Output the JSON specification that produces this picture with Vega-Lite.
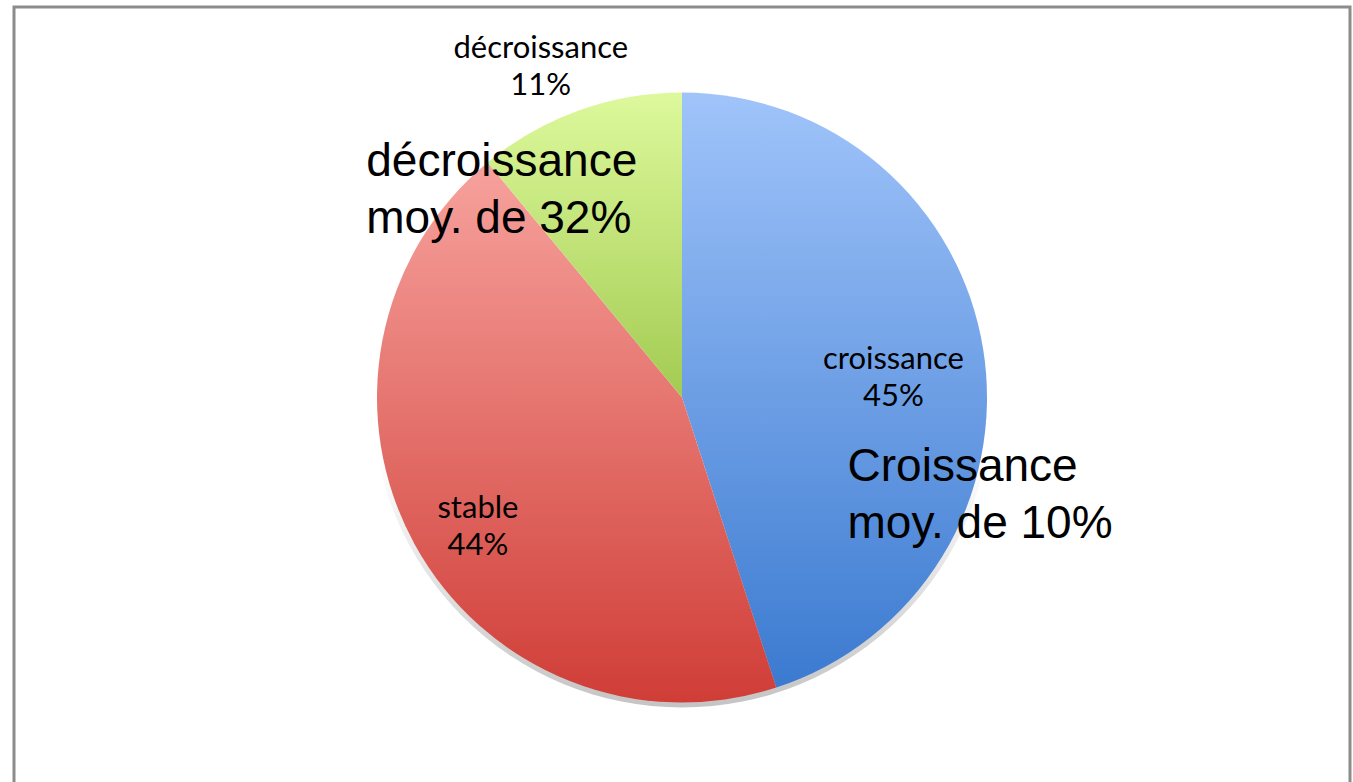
{
  "$schema": "https://vega.github.io/schema/vega-lite/v6.json",
  "width": 1336,
  "height": 781,
  "autosize": {"type": "none"},
  "padding": {"left": 14, "top": 7, "right": 3, "bottom": -6},
  "background": "white",
  "config": {"view": {"stroke": null}},
  "datasets": {
    "slices": [
      {"cat": "croissance", "value": 45, "order": 1, "label": "croissance\n45%", "note": "Croissance\nmoy. de 10%"},
      {"cat": "stable", "value": 44, "order": 2, "label": "stable\n44%", "note": ""},
      {"cat": "décroissance", "value": 11, "order": 3, "label": "décroissance\n11%", "note": "décroissance\nmoy. de 32%"}
    ],
    "whole": [{"value": 100}],
    "frame": [{"name": "frame"}]
  },
  "layer": [
    {
      "data": {"name": "frame"},
      "mark": {"type": "rect", "fill": null, "stroke": "#8c8c8c", "strokeWidth": 3},
      "encoding": {}
    },
    {
      "data": {"name": "whole"},
      "mark": {"type": "arc", "radius": 310, "stroke": null},
      "encoding": {
        "theta": {"field": "value", "type": "quantitative", "scale": {"domain": [0, 100]}},
        "fill": {"value": {"gradient": "linear", "x1": 0, "y1": 0, "x2": 0, "y2": 1, "stops": [{"offset": 0, "color": "#ffffff"}, {"offset": 0.6, "color": "#ffffff"}, {"offset": 1, "color": "#c4c4c4"}]}}
      }
    },
    {
      "data": {"name": "slices"},
      "encoding": {
        "theta": {"field": "value", "type": "quantitative", "stack": true, "scale": {"domain": [0, 100]}},
        "order": {"field": "order", "type": "quantitative"}
      },
      "layer": [
        {
          "mark": {"type": "arc", "radius": 305, "stroke": null},
          "encoding": {
            "fill": {
              "condition": [
                {"test": "datum.cat === 'croissance'", "value": {"gradient": "linear", "x1": 0, "y1": 0, "x2": 0, "y2": 1, "stops": [{"offset": 0, "color": "#A0C4FA"}, {"offset": 1, "color": "#3B7AD0"}]}},
                {"test": "datum.cat === 'stable'", "value": {"gradient": "linear", "x1": 0, "y1": 0, "x2": 0, "y2": 1, "stops": [{"offset": 0, "color": "#F7A29D"}, {"offset": 1, "color": "#D03D37"}]}}
              ],
              "value": {"gradient": "linear", "x1": 0, "y1": 0, "x2": 0, "y2": 1, "stops": [{"offset": 0, "color": "#DDF99C"}, {"offset": 1, "color": "#A3CB52"}]}
            }
          }
        },
        {
          "mark": {"type": "text", "radius": 212, "dx": 2, "dy": 5, "font": "Lato", "fontSize": 31, "align": "center", "baseline": "alphabetic", "lineBreak": "\n", "lineHeight": 37, "color": "black"},
          "encoding": {"text": {"condition": {"test": "datum.cat === 'croissance'", "field": "label"}, "value": ""}}
        },
        {
          "mark": {"type": "text", "radius": 242, "dx": 8, "dy": 4, "font": "Lato", "fontSize": 31, "align": "center", "baseline": "alphabetic", "lineBreak": "\n", "lineHeight": 37, "color": "black"},
          "encoding": {"text": {"condition": {"test": "datum.cat === 'stable'", "field": "label"}, "value": ""}}
        },
        {
          "mark": {"type": "text", "radius": 352, "dx": -22, "dy": -8, "font": "Lato", "fontSize": 31, "align": "center", "baseline": "alphabetic", "lineBreak": "\n", "lineHeight": 37, "color": "black"},
          "encoding": {"text": {"condition": {"test": "datum.cat === 'décroissance'", "field": "label"}, "value": ""}}
        },
        {
          "mark": {"type": "text", "radius": 200, "dx": -32, "dy": 115, "font": "Liberation Sans", "fontSize": 46, "align": "left", "baseline": "alphabetic", "lineBreak": "\n", "lineHeight": 57, "color": "black"},
          "encoding": {"text": {"condition": {"test": "datum.cat === 'croissance'", "field": "note"}, "value": ""}}
        },
        {
          "mark": {"type": "text", "radius": 200, "dx": -248, "dy": -33, "font": "Liberation Sans", "fontSize": 46, "align": "left", "baseline": "alphabetic", "lineBreak": "\n", "lineHeight": 57, "color": "black"},
          "encoding": {"text": {"condition": {"test": "datum.cat === 'décroissance'", "field": "note"}, "value": ""}}
        }
      ]
    }
  ]
}
